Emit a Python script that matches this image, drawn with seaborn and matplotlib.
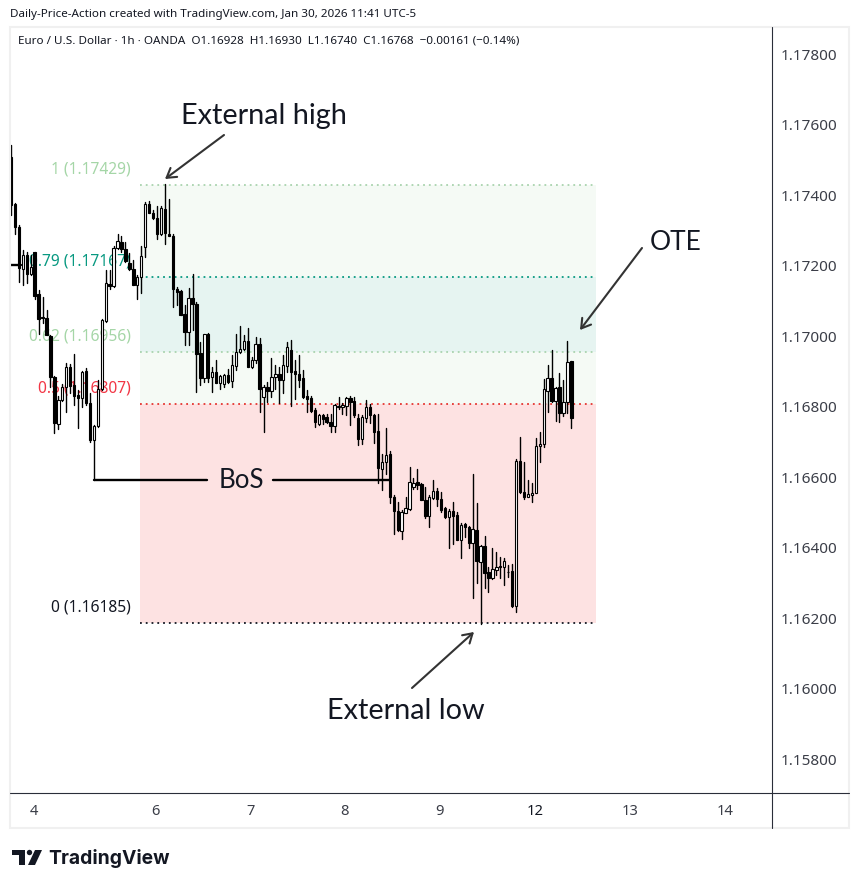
import numpy as np
import pandas as pd
import matplotlib
matplotlib.use("Agg")
import matplotlib.pyplot as plt
from matplotlib.patches import Polygon, Rectangle
from matplotlib.lines import Line2D
import seaborn as sns

# hourly EURUSD candles, prices in 1e-5 units
open_pts = [117508,117374,117308,117189,117231,117175,117237,117119,117054,117050,117001,116884,116749,116818,116854,116911,116861,116832,116823,116900,116811,116706,116744,116851,117043,117147,117143,117251,117267,117248,117208,117189,117145,117166,117253,117374,117348,117336,117288,117360,117289,117285,117132,117127,117062,117012,117109,117092,
116951,116880,117007,116883,116897,116867,116864,116888,116873,116916,116955,116962,116985,116911,116932,116977,116826,116856,116845,116885,116892,116875,116915,116960,116902,116892,116880,116830,116823,116790,116749,116776,116771,116757,116746,116798,116798,116802,116823,116815,116766,116707,116766,116798,116776,116731,
116624,116643,116665,116542,116504,116448,116499,116509,116571,116587,116579,116535,116490,116540,116559,116539,116511,116487,116504,116491,116421,116466,116459,116412,116450,116360,116404,116330,116314,116336,116347,116346,116331,116334,116234,116646,116558,116544,116550,116556,116689,116695,116845,116880,116817,116854,116782,116812,116928]
high_pts = [117541,117376,117315,117244,117239,117229,117239,117130,117111,117073,117002,116886,116829,116865,116922,116920,116949,116846,116901,116908,116837,116747,116875,117047,117187,117187,117255,117289,117283,117267,117236,117215,117173,117255,117381,117384,117357,117368,117368,117431,117390,117289,117140,117130,117088,117135,117176,117097,
116984,117007,117009,116913,116932,116889,116892,116905,116946,117006,117028,117003,117022,116941,116996,116993,116861,116870,116937,116918,116913,116946,116984,116989,116932,116946,116903,116847,116830,116795,116780,116780,116780,116780,116807,116826,116811,116828,116830,116826,116779,116776,116818,116807,116780,116778,
116665,116738,116675,116549,116530,116506,116544,116627,116596,116622,116582,116571,116549,116591,116568,116558,116516,116508,116528,116502,116469,116470,116462,116608,116527,116407,116433,116346,116398,116388,116374,116369,116350,116353,116650,116714,116643,116591,116582,116710,116729,116877,116918,116960,116856,116894,116875,116986,116930]
low_pts = [117343,117289,117154,117144,117149,117173,117106,117005,117037,117002,116856,116724,116735,116816,116785,116837,116804,116740,116799,116804,116700,116591,116742,116846,117040,117132,117140,117248,117239,117210,117187,117144,117106,117123,117225,117348,117333,117274,117286,117261,117283,117081,117088,117059,116974,116974,117017,116842,
116861,116870,116870,116842,116867,116849,116854,116867,116854,116903,116953,116960,116911,116908,116922,116785,116728,116814,116828,116851,116809,116837,116899,116801,116820,116854,116823,116785,116785,116741,116747,116750,116754,116728,116728,116792,116779,116776,116747,116769,116691,116693,116757,116752,116697,116584,
116563,116609,116525,116438,116448,116424,116499,116506,116565,116565,116535,116483,116459,116539,116518,116502,116483,116400,116410,116421,116371,116431,116398,116256,116300,116183,116284,116275,116310,116322,116313,116294,116315,116232,116218,116556,116539,116542,116530,116554,116643,116686,116785,116814,116760,116757,116773,116781,116740]
close_pts = [117371,117308,117192,117231,117177,117196,117114,117047,117050,117002,116884,116752,116818,116854,116911,116858,116830,116823,116898,116811,116705,116744,116851,117045,117149,117143,117251,117270,117248,117213,117189,117145,117166,117227,117374,117348,117336,117288,117362,117291,117285,117132,117125,117059,117012,117109,117092,116950,
116880,117007,116880,116897,116867,116886,116888,116870,116918,116955,116962,116985,116911,116932,116977,116851,116856,116845,116885,116892,116875,116918,116968,116899,116891,116875,116828,116821,116788,116757,116776,116764,116757,116745,116804,116801,116803,116823,116814,116776,116707,116769,116798,116776,116728,116626,
116643,116662,116544,116504,116450,116500,116511,116587,116584,116577,116535,116489,116542,116559,116539,116506,116486,116504,116489,116421,116465,116459,116412,116452,116363,116404,116329,116314,116339,116346,116345,116362,116330,116234,116646,116558,116544,116552,116556,116689,116695,116849,116880,116816,116852,116782,116812,116927,116768]

fib_ratios = ["0", "0.5", "0.62", "0.79", "1"]
fib_prices = [1.16185, 1.16807, 1.16956, 1.17167, 1.17429]
fib_line_colors = ["#131722", "#e5342f", "#a9d3ae", "#089981", "#a9d3ae"]
fib_text_colors = ["#131722", "#f23645", "#a5d6a7", "#089981", "#a5d6a7"]
fib_fills = ["#fde2e2", "#f5faf5", "#e6f4f1", "#f5faf5"]
price_ticks = [1.178, 1.176, 1.174, 1.172, 1.170, 1.168, 1.166, 1.164, 1.162, 1.160, 1.158]
day_labels = ["4", "6", "7", "8", "9", "12", "13", "14"]
day_bars = [5.8, 36.7, 60.8, 84.6, 108.7, 132.8, 156.9, 180.9]
bos_price = 1.16591
stub_price = 1.17201

sns.set_theme(style="white")
W, H = 859, 888
fig = plt.figure(figsize=(W / 100, H / 100), dpi=100, facecolor="white")
TXT = "Noto Sans"

def fx(px): return px / W
def fy(py): return 1 - py / H

ax = fig.add_axes([fx(11), fy(792), (771 - 11) / W, (792 - 27) / H])
ax.set_facecolor("white")
BAR_W = 3.946
ax.set_xlim(0, 760 / BAR_W)
ax.set_ylim(1.178 - 738 / 35250, 1.178 + 27 / 35250)
for s in ax.spines.values():
    s.set_visible(False)

bars = np.arange(len(open_pts))
o, h, l, c = [np.array(a) / 1e5 for a in (open_pts, high_pts, low_pts, close_pts)]

# Fib zones
fib_x0, fib_x1 = 32.7, 148.3
for lo, hi, col in zip(fib_prices[:-1], fib_prices[1:], fib_fills):
    ax.fill_between([fib_x0, fib_x1], lo, hi, color=col, lw=0, zorder=1)
for p, col, ratio, tcol in zip(fib_prices, fib_line_colors, fib_ratios, fib_text_colors):
    ax.plot([fib_x0, fib_x1], [p, p], color=col, lw=1.3, ls=(0, (1, 2.2)), zorder=2)
    ax.text(fib_x0 - 2.3, p + 0.00044, f"{ratio} ({p:.5f})", color=tcol, ha="right", va="center",
            fontsize=11.2, family=TXT, zorder=2)

# Wicks through seaborn, bodies on the same axes
wicks = pd.DataFrame({"bar": np.r_[bars, bars], "price": np.r_[h, l]})
sns.lineplot(data=wicks, x="bar", y="price", units="bar", estimator=None, color="black",
             lw=1.0, ax=ax, legend=False, zorder=4)
up = c >= o
ax.bar(bars[up], np.abs(c - o)[up], bottom=np.minimum(o, c)[up], width=0.6, facecolor="white",
       edgecolor="black", lw=0.8, zorder=5)
ax.bar(bars[~up], np.abs(c - o)[~up], bottom=np.minimum(o, c)[~up], width=0.6, facecolor="black",
       edgecolor="black", lw=0.8, zorder=5)

# BoS segments
ax.plot([21, 49.7], [bos_price, bos_price], color="black", lw=1.7, zorder=6)
ax.plot([66.4, 95.8], [bos_price, bos_price], color="black", lw=1.7, zorder=6)
ax.plot([0, 2.6], [stub_price, stub_price], color="black", lw=1.7, zorder=6)
ax.text(58.3, bos_price - 0.00002, "BoS", ha="center", va="center", fontsize=18.7, family="Lato", color="#131722", zorder=6)

ax.set_xlabel(""); ax.set_ylabel("")
ax.yaxis.tick_right()
ax.set_yticks(price_ticks)
ax.set_yticklabels([f"{t:.5f}" for t in price_ticks], fontsize=11, family=TXT, color="#3b3e48")
ax.set_xticks(day_bars)
ax.set_xticklabels(day_labels, fontsize=10.6, family=TXT, color="#3b3e48")
ax.get_xticklabels()[5].set_fontweight("bold")
ax.get_xticklabels()[5].set_color("#131722")
ax.tick_params(axis="both", length=0, pad=0)
ax.tick_params(axis="y", pad=7)
ax.tick_params(axis="x", pad=8.5)
for lab in ax.get_yticklabels():
    lab.set_verticalalignment("center_baseline")

# Callouts
def arrow(start, end):
    fig.add_artist(matplotlib.patches.FancyArrowPatch(
        (fx(start[0]), fy(start[1])), (fx(end[0]), fy(end[1])), transform=fig.transFigure,
        arrowstyle="->,head_length=6.5,head_width=4.0", color="#333333", lw=1.5,
        shrinkA=0, shrinkB=0, zorder=10))

arrow((224, 135), (165, 179))
arrow((412, 688), (474, 632))
arrow((642, 248), (580, 330))
for x, y, s, fs in [(263.5, 116, "External high", 20.8), (405.5, 711, "External low", 20.8), (676, 242, "OTE", 19)]:
    fig.text(fx(x), fy(y), s, ha="center", va="center", fontsize=fs, family="Lato", color="#131722")

# Pane frame
fig.add_artist(Rectangle((fx(10), fy(828)), 839 / W, 801 / H,
                         transform=fig.transFigure, fill=False, ec="#f0f0f0", lw=1.5))
fig.add_artist(Line2D([fx(771.5), fx(771.5)], [fy(27), fy(828)], color="#2a2e39", lw=0.8))
fig.add_artist(Line2D([fx(10), fx(849)], [fy(792.5), fy(792.5)], color="#2a2e39", lw=0.8))

# Header
fig.text(fx(10), fy(14), "Daily-Price-Action created with TradingView.com, Jan 30, 2026 11:41 UTC-5",
         fontsize=8.4, family=TXT, color="#131722", va="center")
fig.text(fx(18), fy(41), "Euro / U.S. Dollar · 1h · OANDA  O1.16928  H1.16930  L1.16740  C1.16768  −0.00161 (−0.14%)",
         fontsize=8.4, family=TXT, color="#131722", va="center")

# Footer logo
def pts(*p): return [(fx(a), fy(b)) for a, b in p]
logo = "#131722"
for poly in [pts((12, 850), (25, 850), (25, 865), (18.5, 865), (18.5, 855), (12, 855)),
             pts((35, 850), (42, 850), (35, 865), (28, 865))]:
    fig.add_artist(Polygon(poly, closed=True, transform=fig.transFigure, fc=logo, ec="none"))
fig.add_artist(matplotlib.patches.Ellipse((fx(29.5), fy(852.5)), 5.4 / W, 5.4 / H,
               transform=fig.transFigure, fc=logo, ec="none"))
fig.text(fx(48), fy(858), "TradingView", fontsize=13.9, family="Inter", weight="bold", color=logo, va="center")

fig.savefig("out.png", dpi=100, facecolor="white")
